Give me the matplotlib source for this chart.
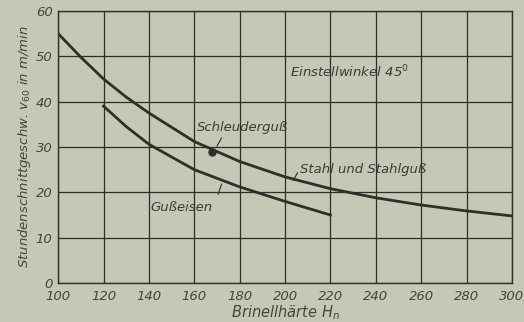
import matplotlib.pyplot as plt

# Stahl und Stahlguss
stahl_h = [100, 110, 120, 130, 140, 160, 180, 200, 220, 240, 260, 280, 300]
stahl_v = [55, 49.8, 45, 41, 37.5, 31.2, 26.8, 23.4, 20.8, 18.8, 17.2, 15.9, 14.8]
# Gusseisen
guss_h = [120, 130, 140, 160, 180, 200, 220]
guss_v = [39, 34.5, 30.6, 25, 21.2, 18, 15]
# Schleuderguss (single point)
schl_h = [168]
schl_v = [29]

xticks = [100, 120, 140, 160, 180, 200, 220, 240, 260, 280, 300]
yticks = [0, 10, 20, 30, 40, 50, 60]

bg = '#c6c7b6'
ink = '#2e2f28'

plt.rcParams['font.family'] = ['DejaVu Sans']
fig = plt.figure(figsize=(5.24, 3.22), dpi=100, facecolor=bg)
ax = fig.add_axes([0.111, 0.121, 0.866, 0.845], facecolor=bg)

ax.plot(stahl_h, stahl_v, color=ink, lw=2.0)
ax.plot(guss_h, guss_v, color=ink, lw=2.0)
ax.plot(schl_h, schl_v, 'o', color=ink, ms=5)

ax.set_xlim(100, 300)
ax.set_ylim(0, 60)
ax.set_xticks(xticks)
ax.set_yticks(yticks)
ax.set_xticklabels([str(t) for t in xticks], fontstyle='italic', fontsize=9.5, color='#44453c')
ax.set_yticklabels([str(t) for t in yticks], fontstyle='italic', fontsize=9.5, color='#44453c')
ax.tick_params(axis='x', length=0, pad=5)
ax.tick_params(axis='y', length=0, pad=4)
ax.grid(True, color=ink, lw=0.9)
for s in ax.spines.values():
    s.set_color(ink)
    s.set_linewidth(1.0)

ax.set_xlabel('Brinellhärte $H_n$', fontstyle='italic', fontsize=10.5, color='#44453c', labelpad=0)
ax.set_ylabel('Stundenschnittgeschw. $v_{60}$ in m/min', fontstyle='italic', fontsize=9.5,
              color='#44453c', labelpad=2)

tk = dict(fontstyle='italic', fontsize=9.5, color='#3a3b33')
ax.text(202, 46.5, 'Einstellwinkel 45$^0$', va='center', **tk)
ax.text(161, 34.3, 'Schleuderguß', va='center', **tk)
ax.text(206.5, 25, 'Stahl und Stahlguß', va='center', **tk)
ax.text(140.5, 16.6, 'Gußeisen', va='center', **tk)

# little leader strokes
ax.plot([172, 170], [32.0, 30.2], color=ink, lw=0.8)
ax.plot([205.5, 203.5], [24.3, 22.6], color=ink, lw=0.8)
ax.plot([172, 170.5], [21.8, 19.6], color=ink, lw=0.8)

fig.savefig('out.png', dpi=100, facecolor=bg)
